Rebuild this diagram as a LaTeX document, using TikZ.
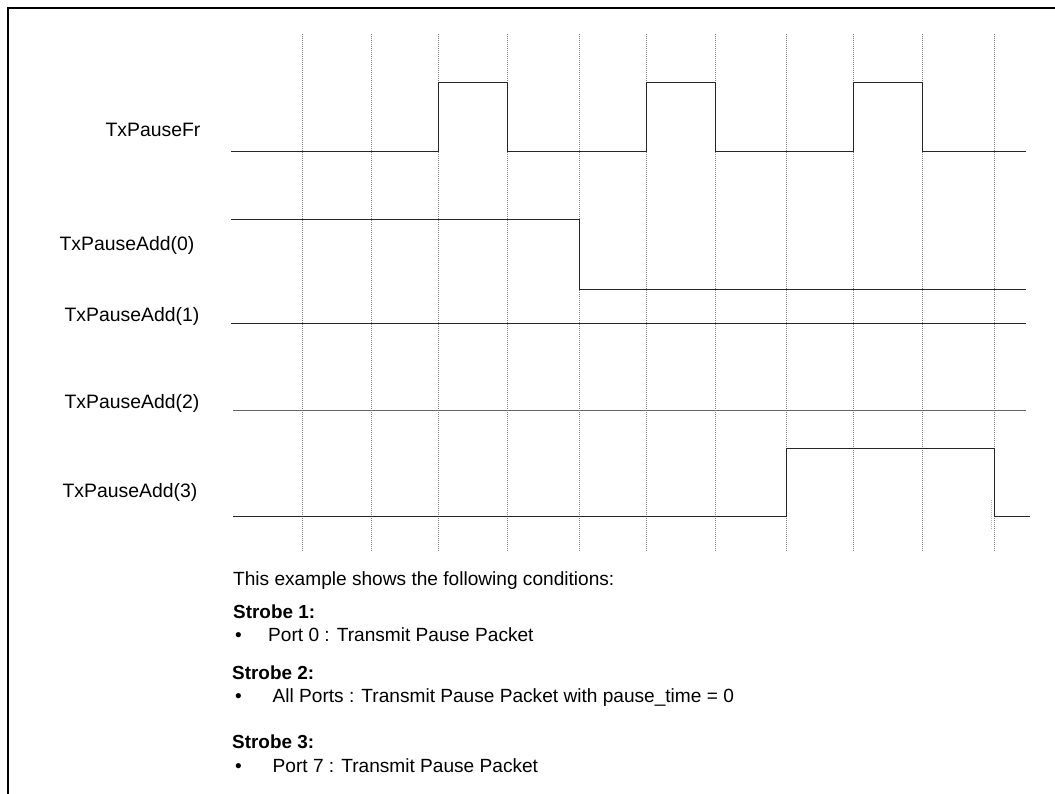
\documentclass[tikz,border=0pt]{standalone}
\usepackage{fontspec}
\setmainfont{Liberation Sans}
\begin{document}
\begin{tikzpicture}[x=1pt,y=-1pt,
  sig/.style={line width=0.9pt, black!85},
  grid/.style={gray, line width=0.7pt, dash pattern=on 1pt off 1pt},
  lbl/.style={font=\fontsize{19.4}{22}\selectfont, inner sep=0pt},
  txt/.style={font=\fontsize{19.1}{22}\selectfont, inner sep=0pt, anchor=base west},
  btxt/.style={font=\fontsize{18.9}{22}\selectfont\bfseries, inner sep=0pt, anchor=base west}]
\useasboundingbox (0,0) rectangle (1055,794);
% frame
\draw[line width=2.4pt] (8,794) -- (8,8) -- (1055,8);
% timing grid
\foreach \x in {302.5,371.5,438,507.5,579,646,715,786.5,853.3,922.5,994.3}
  \draw[grid] (\x,34) -- (\x,551);
% signals
\draw[sig] (231,151.5) -- (438,151.5) -- (438,82.5) -- (507.5,82.5) -- (507.5,151.5)
  -- (646,151.5) -- (646,82.5) -- (715,82.5) -- (715,151.5)
  -- (853.3,151.5) -- (853.3,82.5) -- (922.5,82.5) -- (922.5,151.5) -- (1026,151.5);
\draw[sig] (231,219.5) -- (579,219.5) -- (579,289.3) -- (1026,289.3);
\draw[sig] (231,323.3) -- (1026,323.3);
\draw[sig, black!60] (233,410) -- (1026,410);
\draw[sig] (233,516.7) -- (786.5,516.7) -- (786.5,448.3) -- (994.3,448.3) -- (994.3,516.7) -- (1030,516.7);
\draw[gray!60, line width=0.6pt, dash pattern=on 1pt off 1pt] (991.5,500) -- (991.5,530);
% labels
\node[lbl] (fr) at (153,130) {TxPauseFr};
\node[lbl] (a0) at (127,245) {TxPauseAdd(0)};
\node[lbl] (a1) at (132,316) {TxPauseAdd(1)};
\node[lbl] (a2) at (132,403) {TxPauseAdd(2)};
\node[lbl] (a3) at (130,492) {TxPauseAdd(3)};
% description
\node[txt] (intro) at (233,585) {This example shows the following conditions:};
\node[btxt] (s1) at (233,618) {Strobe 1:};
\node[txt] (b1) at (233,641.5) {\hspace{2pt}•};
\node[txt] (t1) at (268,641.5) {Port 0 : Transmit Pause Packet};
\node[btxt] (s2) at (232,679) {Strobe 2:};
\node[txt] (b2) at (233,702) {\hspace{2pt}•};
\node[txt] (t2) at (272.5,702) {All Ports : Transmit Pause Packet with pause\_time = 0};
\node[btxt] (s3) at (232,748) {Strobe 3:};
\node[txt] (b3) at (233,772) {\hspace{2pt}•};
\node[txt] (t3) at (272.5,772) {Port 7 : Transmit Pause Packet};
\end{tikzpicture}
\end{document}
